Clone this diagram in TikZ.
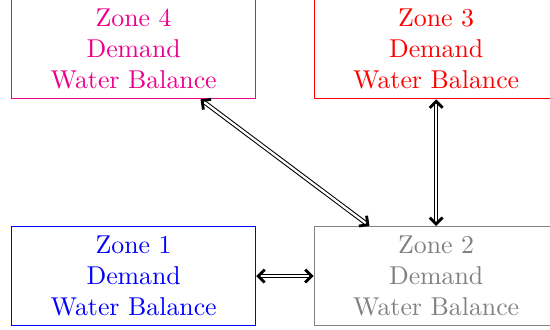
\documentclass[tikz,border=0pt]{standalone}
\usetikzlibrary{arrows.meta}
\begin{document}
\begin{tikzpicture}[x=0.3876pt,y=-0.3876pt,
  zone/.style={draw,thin,align=center,minimum width=94.6pt,minimum height=38.4pt,inner sep=0pt},
  link/.style={double,double distance=0.9pt,thin,
    {Straight Barb[length=2.5pt,width=5pt,line width=1.1pt]}-{Straight Barb[length=2.5pt,width=5pt,line width=1.1pt]}}]
\useasboundingbox (0,0) rectangle (550,329);
\node[zone,magenta,text=magenta] (z4) at (133.7,49.3) {Zone 4\\Demand\\Water Balance};
\node[zone,red] (z3) at (436.2,49.3) {Zone 3\\Demand\\Water Balance};
\node[zone,blue] (z1) at (133.7,276) {Zone 1\\Demand\\Water Balance};
\node[zone,gray] (z2) at (436.2,276) {Zone 2\\Demand\\Water Balance};
\draw[link] (z4) -- (z2);
\draw[link] (z3) -- (z2);
\draw[link] (z1) -- (z2);
\end{tikzpicture}
\end{document}
